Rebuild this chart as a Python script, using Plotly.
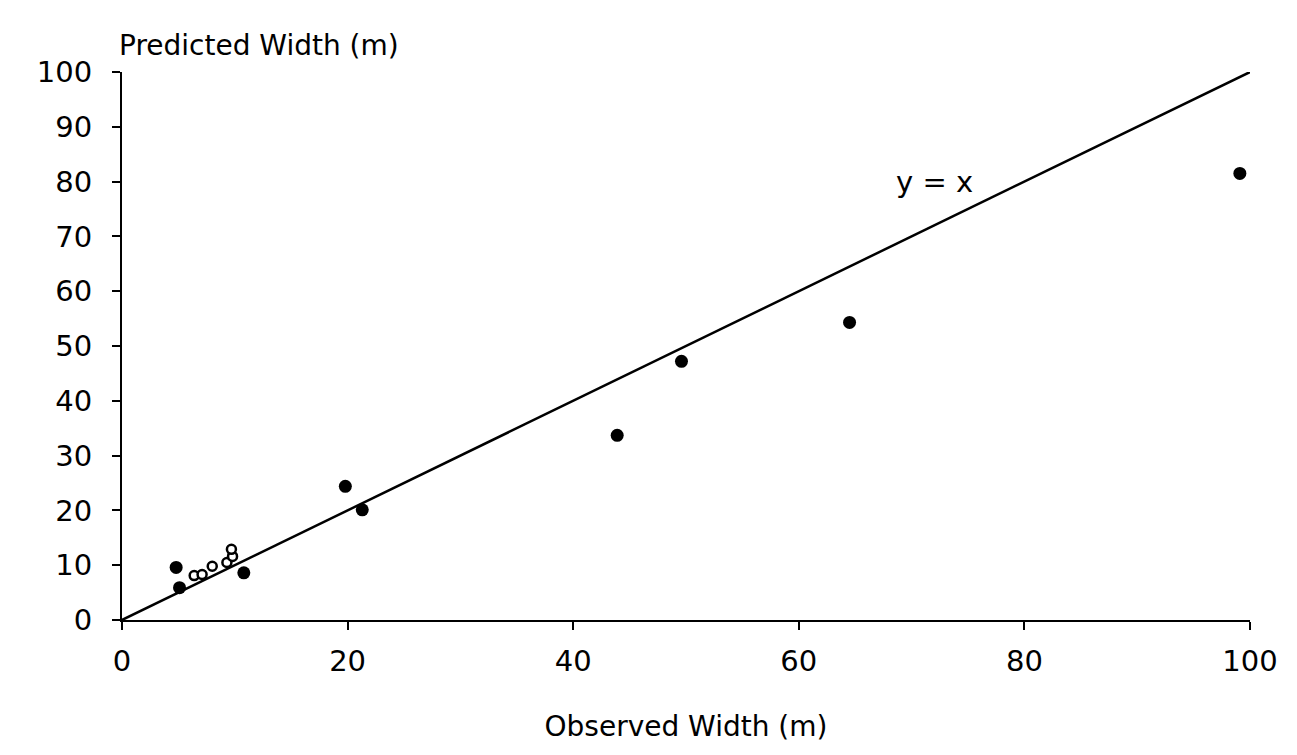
import plotly.graph_objects as go

# Observed vs predicted widths (m)
filled_obs = [99.1, 64.5, 49.6, 43.9, 19.8, 21.3, 10.8, 4.8, 5.1]
filled_pred = [81.5, 54.3, 47.2, 33.7, 24.4, 20.1, 8.6, 9.6, 5.9]
open_obs = [6.4, 7.1, 8.0, 9.3, 9.8, 9.7]
open_pred = [8.1, 8.3, 9.8, 10.5, 11.6, 12.9]
line_x = [0, 100]
line_y = [0, 100]
tick_vals = [0, 10, 20, 30, 40, 50, 60, 70, 80, 90, 100]
x_tick_vals = [0, 20, 40, 60, 80, 100]

FONT = "DejaVu Sans"

fig = go.Figure()
fig.add_trace(go.Scatter(x=line_x, y=line_y, mode="lines",
                         line=dict(color="black", width=2.5), showlegend=False))
fig.add_trace(go.Scatter(x=filled_obs, y=filled_pred, mode="markers",
                         marker=dict(color="black", size=13), showlegend=False))
fig.add_trace(go.Scatter(x=open_obs, y=open_pred, mode="markers",
                         marker=dict(color="white", size=9,
                                     line=dict(color="black", width=2.5)),
                         showlegend=False))

fig.add_annotation(x=72, y=80, text="y = x", showarrow=False,
                   font=dict(family=FONT, size=29, color="black"))
fig.add_annotation(xref="paper", yref="paper", x=0, y=1, xanchor="left",
                   yanchor="bottom", xshift=-5, yshift=8,
                   text="Predicted Width (m)", showarrow=False,
                   font=dict(family=FONT, size=28, color="black"))

fig.update_layout(
    width=1297, height=755,
    margin=dict(l=122, r=47, t=72, b=135),
    paper_bgcolor="white", plot_bgcolor="white",
    font=dict(family=FONT, size=29, color="black"),
    xaxis=dict(range=[0, 100], tickvals=x_tick_vals, showgrid=False, zeroline=False,
               showline=True, linecolor="black", linewidth=2,
               ticks="outside", ticklen=8, tickwidth=2, tickcolor="black",
               ticklabelstandoff=6,
               title=dict(text="Observed Width (m)", standoff=40,
                          font=dict(family=FONT, size=28))),
    yaxis=dict(range=[0, 100], tickvals=tick_vals, showgrid=False, zeroline=False,
               showline=True, linecolor="black", linewidth=2,
               ticks="outside", ticklen=8, tickwidth=2, tickcolor="black",
               ticklabelstandoff=14),
)

fig.write_html("out.html")
